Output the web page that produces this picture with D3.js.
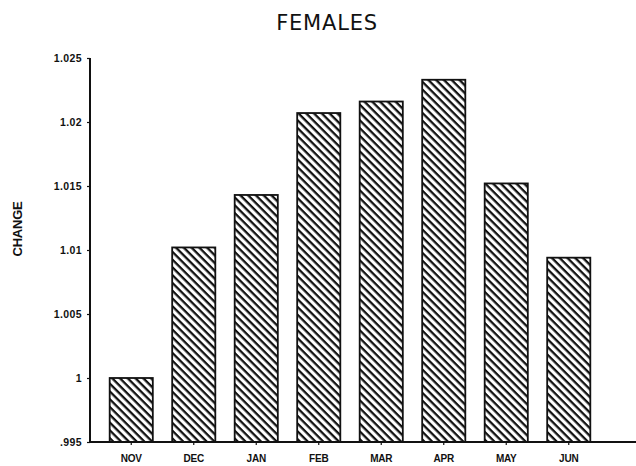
<!DOCTYPE html>
<html>
<head>
<meta charset="utf-8">
<script src="https://cdn.jsdelivr.net/npm/d3@7"></script>
<style>
  html, body { margin: 0; padding: 0; background: #fff; }
  svg { display: block; }
</style>
</head>
<body>
<svg id="chart" width="636" height="466"></svg>
<script>
const months = ["NOV", "DEC", "JAN", "FEB", "MAR", "APR", "MAY", "JUN"];
const values = [1.0, 1.0102, 1.0143, 1.0207, 1.0216, 1.0233, 1.0152, 1.0094];
const yTicks = [0.995, 1.0, 1.005, 1.01, 1.015, 1.02, 1.025];
const yTickLabels = [".995", "1", "1.005", "1.01", "1.015", "1.02", "1.025"];
const title = "FEMALES";
const yTitle = "CHANGE";

const svg = d3.select("#chart");
const baseY = 442, topY = 58, axisX = 90;

const y = d3.scaleLinear().domain([0.995, 1.025]).range([baseY, topY]);
const x = d3.scaleBand().domain(months).range([100, 600]).paddingInner(0.31).paddingOuter(0.155);

// hatch pattern (\\\ direction)
const defs = svg.append("defs");
const pat = defs.append("pattern")
  .attr("id", "hatch")
  .attr("patternUnits", "userSpaceOnUse")
  .attr("width", 5.5).attr("height", 5.5)
  .attr("patternTransform", "rotate(45)");
pat.append("rect").attr("width", 5.5).attr("height", 5.5).attr("fill", "#fff");
pat.append("rect").attr("x", 0).attr("y", 0).attr("width", 5.5).attr("height", 2.3).attr("fill", "#111");

// bars
svg.append("g").selectAll("rect").data(months).join("rect")
  .attr("x", d => x(d))
  .attr("y", (d, i) => y(values[i]))
  .attr("width", x.bandwidth())
  .attr("height", (d, i) => baseY - y(values[i]))
  .attr("fill", "url(#hatch)")
  .attr("stroke", "#111")
  .attr("stroke-width", 1.8);

// y axis
const yAxis = d3.axisLeft(y).tickValues(yTicks)
  .tickFormat((d, i) => yTickLabels[i]).tickSize(3).tickPadding(5);
const gy = svg.append("g").attr("transform", `translate(${axisX},0)`).call(yAxis);
gy.select(".domain").attr("stroke", "#111").attr("stroke-width", 2).attr("d", `M0,${topY}V${baseY}`);
gy.selectAll(".tick line").attr("stroke", "#111").attr("stroke-width", 1.2);
gy.selectAll(".tick text")
  .attr("font-family", "'Liberation Sans', Arial, sans-serif")
  .attr("font-weight", "bold").attr("font-size", 10.5)
  .attr("letter-spacing", 0.4).attr("fill", "#111");

// x axis
const xAxis = d3.axisBottom(x).tickSize(3);
const gx = svg.append("g").attr("transform", `translate(0,${baseY})`).call(xAxis);
gx.select(".domain").attr("stroke", "#111").attr("stroke-width", 2).attr("d", `M${axisX},0H636`);
gx.selectAll(".tick line").attr("stroke", "#111").attr("stroke-width", 1.2);
gx.selectAll(".tick text")
  .attr("y", 20).attr("dy", null)
  .attr("font-family", "'Liberation Sans', Arial, sans-serif")
  .attr("font-weight", "bold").attr("font-size", 10)
  .attr("letter-spacing", -0.2).attr("fill", "#111");

// title
svg.append("text").attr("x", 327).attr("y", 30)
  .attr("text-anchor", "middle")
  .attr("font-family", "'DejaVu Sans', sans-serif")
  .attr("font-size", 21).attr("fill", "#111")
  .attr("letter-spacing", 0.8)
  .text(title);

// y title
svg.append("text")
  .attr("transform", "translate(22,229) rotate(-90)")
  .attr("text-anchor", "middle")
  .attr("font-family", "'Liberation Sans', Arial, sans-serif")
  .attr("font-weight", "bold").attr("font-size", 13)
  .attr("letter-spacing", -0.2).attr("fill", "#111")
  .text(yTitle);
</script>
</body>
</html>
